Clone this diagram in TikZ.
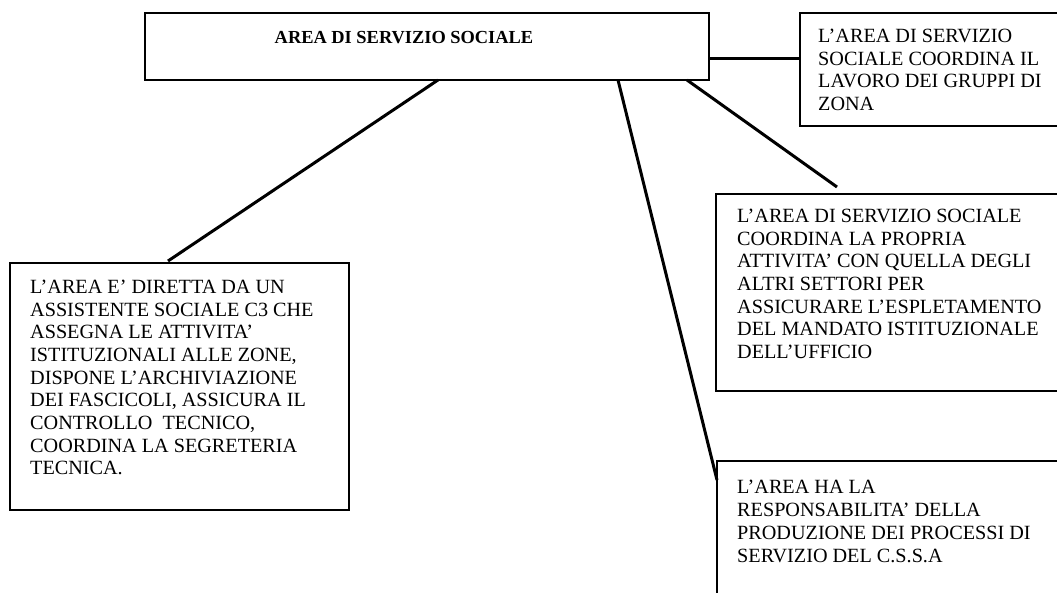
\documentclass[tikz,border=0pt]{standalone}
\usepackage{fontspec}
\setmainfont{Liberation Serif}
\usetikzlibrary{calc}
\begin{document}
\begin{tikzpicture}[x=1pt,y=-1pt,
  boxframe/.style={draw=black,line width=1.6pt,fill=none,inner sep=0pt,
    outer sep=0pt,rectangle,anchor=north west},
  connector/.style={draw=black,line width=3pt},
  boxtext/.style={anchor=north west,inner sep=0pt,align=left,
    font=\fontsize{20.2}{22.7}\selectfont},
  titletext/.style={anchor=base,inner sep=0pt,
    font=\fontsize{18.4}{22.7}\selectfont\bfseries}]
\useasboundingbox (0,0) rectangle (1057,592);
\clip (0,0) rectangle (1057,592);

% boxes (the right-hand ones run past the page edge)
\node[boxframe,minimum width=564pt,minimum height=67pt] (main) at (145,13) {};
\node[boxframe,minimum width=270pt,minimum height=113pt] (zone) at (800,13) {};
\node[boxframe,minimum width=339pt,minimum height=247pt] (lead) at (10,263) {};
\node[boxframe,minimum width=354pt,minimum height=197pt] (coord) at (716,194) {};
\node[boxframe,minimum width=353pt,minimum height=200pt] (resp) at (717,461) {};

% texts
\node[titletext] (title) at (404,43) {AREA DI SERVIZIO SOCIALE};
\node[boxtext] (zonetxt) at (818,41.7-13) {\rule{0pt}{13pt}L’AREA DI SERVIZIO\\SOCIALE COORDINA IL\\LAVORO DEI GRUPPI DI\\ZONA};
\node[boxtext] (leadtxt) at (30,292.7-13) {\rule{0pt}{13pt}L’AREA E’ DIRETTA DA UN\\ASSISTENTE SOCIALE C3 CHE\\ASSEGNA LE ATTIVITA’\\ISTITUZIONALI ALLE ZONE,\\DISPONE L’ARCHIVIAZIONE\\DEI FASCICOLI, ASSICURA IL\\CONTROLLO\ \ TECNICO,\\COORDINA LA SEGRETERIA\\TECNICA.};
\node[boxtext] (coordtxt) at (737,221.7-13) {\rule{0pt}{13pt}L’AREA DI SERVIZIO SOCIALE\\COORDINA LA PROPRIA\\ATTIVITA’ CON QUELLA DEGLI\\ALTRI SETTORI PER\\ASSICURARE L’ESPLETAMENTO\\DEL MANDATO ISTITUZIONALE\\DELL’UFFICIO};
\node[boxtext] (resptxt) at (737,493.3-13) {\rule{0pt}{13pt}L’AREA HA LA\\RESPONSABILITA’ DELLA\\PRODUZIONE DEI PROCESSI DI\\SERVIZIO DEL C.S.S.A};

% connector end points
\coordinate (a1) at ($(main.south west)+(293,0)$);
\coordinate (a2) at ($(lead.north west)+(158,-2)$);
\coordinate (b1) at ($(main.south west)+(473,0)$);
\coordinate (b2) at ($(resp.north west)+(0,19)$);
\coordinate (c1) at ($(main.south west)+(542,0)$);
\coordinate (c2) at ($(coord.north west)+(121,-7)$);
\coordinate (d1) at ($(main.south east)+(0,-22)$);
\coordinate (d2) at ($(zone.north west)+(0,45)$);

\draw[connector] (a1) -- (a2);
\draw[connector] (b1) -- (b2);
\draw[connector] (c1) -- (c2);
\draw[connector] (d1) -- (d2);
\end{tikzpicture}
\end{document}
